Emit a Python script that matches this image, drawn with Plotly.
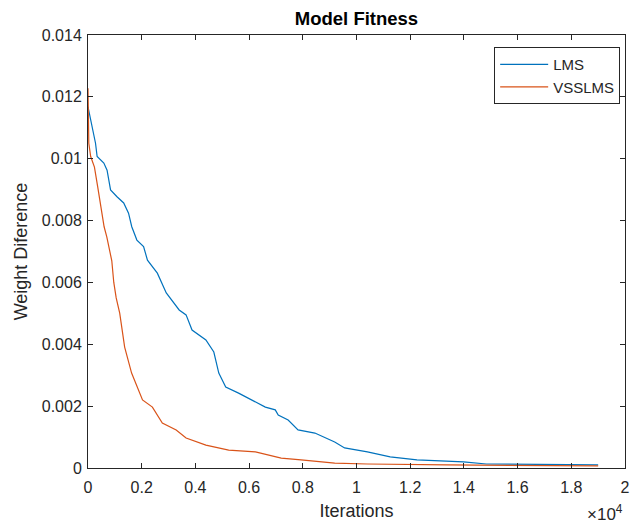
import plotly.graph_objects as go

# Weight difference vs. iteration for the two adaptive filters
lms_iter = [0, 100, 160, 280, 340, 590, 710, 840, 1080, 1330, 1510, 1630,
            1820, 2070, 2214, 2583, 2915, 3395, 3653, 3875, 4391, 4686, 4871,
            5129, 5609, 6089, 6605, 6974, 7085, 7454, 7823, 8450, 9188, 9557,
            10406, 11255, 12251, 13985, 14834, 19000]
lms_err = [0.01168, 0.01125, 0.01093, 0.0105, 0.01007, 0.00986, 0.00963,
           0.00899, 0.00877, 0.00857, 0.00824, 0.0078, 0.00737, 0.00716,
           0.00672, 0.0063, 0.00566, 0.00511, 0.00495, 0.00446, 0.00414,
           0.00375, 0.00307, 0.00262, 0.00242, 0.0022, 0.00197, 0.00188,
           0.00171, 0.00155, 0.00123, 0.00113, 0.00084, 0.00065, 0.00052,
           0.00036, 0.00026, 0.0002, 0.00013, 0.0001]

vss_iter = [0, 30, 100, 240, 360, 480, 600, 700, 780, 886, 960, 1050, 1181,
            1365, 1624, 1845, 2030, 2399, 2768, 3284, 3653, 4391, 5240, 6236,
            6974, 7196, 7934, 9188, 10406, 13358, 19000]
vss_err = [0.01228, 0.0105, 0.01007, 0.00973, 0.0091, 0.00845, 0.0078,
           0.00747, 0.00714, 0.0067, 0.0060, 0.0055, 0.00501, 0.00391,
           0.00307, 0.00262, 0.0022, 0.00197, 0.00145, 0.00123, 0.00097,
           0.00074, 0.00058, 0.00052, 0.00036, 0.00032, 0.00026, 0.00016,
           0.00013, 0.0001, 0.00007]

x_ticks = [0, 2000, 4000, 6000, 8000, 10000, 12000, 14000, 16000, 18000, 20000]
x_tick_text = ["0", "0.2", "0.4", "0.6", "0.8", "1", "1.2", "1.4", "1.6", "1.8", "2"]
y_ticks = [0, 0.002, 0.004, 0.006, 0.008, 0.01, 0.012, 0.014]
y_tick_text = ["0", "0.002", "0.004", "0.006", "0.008", "0.01", "0.012", "0.014"]

FONT = "Liberation Sans, Arial, Helvetica, sans-serif"
AX = "#262626"

fig = go.Figure()
fig.add_trace(go.Scatter(x=lms_iter, y=lms_err, mode="lines", name="LMS",
                         line=dict(color="#0072BD", width=1.2)))
fig.add_trace(go.Scatter(x=vss_iter, y=vss_err, mode="lines", name="VSSLMS",
                         line=dict(color="#D95319", width=1.2)))

axis_common = dict(showline=True, linecolor=AX, linewidth=1, mirror="ticks",
                   ticks="inside", ticklen=5, tickcolor=AX, tickwidth=1,
                   showgrid=False, zeroline=False,
                   tickfont=dict(family=FONT, size=16, color=AX))

fig.update_xaxes(range=[0, 20000], tickvals=x_ticks, ticktext=x_tick_text,
                 ticklabelstandoff=5, ticklabeloverflow="allow",
                 title=dict(text="Iterations", font=dict(family=FONT, size=18, color=AX),
                            standoff=9),
                 **axis_common)
fig.update_yaxes(range=[0, 0.014], tickvals=y_ticks, ticktext=y_tick_text,
                 ticklabelstandoff=2,
                 title=dict(text="Weight Diference", font=dict(family=FONT, size=18, color=AX),
                            standoff=9),
                 **axis_common)

fig.update_layout(
    width=632, height=522,
    margin=dict(l=88, r=2, t=35, b=54),
    plot_bgcolor="white", paper_bgcolor="white",
    title=dict(text="<b>Model Fitness</b>", x=0.5, xref="paper", xanchor="center",
               y=1 - 19 / 522, yref="container", yanchor="middle",
               font=dict(family=FONT, size=18.5, color="#000000")),
    legend=dict(x=0.991, y=0.972, xanchor="right", yanchor="top",
                itemwidth=48,
                bgcolor="white", bordercolor=AX, borderwidth=1,
                font=dict(family=FONT, size=15, color=AX)),
    annotations=[dict(text="×10<sup>4</sup>", xref="paper", yref="paper",
                      x=1.0, y=-0.105, xanchor="right", yanchor="middle",
                      showarrow=False, font=dict(family=FONT, size=17, color=AX))],
)

fig.write_html("out.html")
